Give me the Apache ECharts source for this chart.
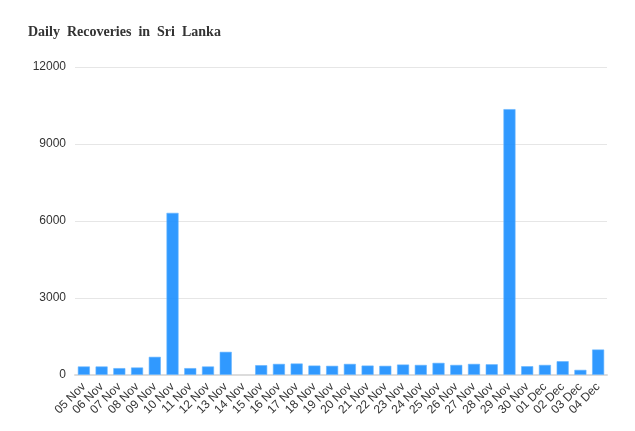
<!DOCTYPE html>
<html><head><meta charset="utf-8">
<script src="https://cdn.jsdelivr.net/npm/echarts@6/dist/echarts.min.js"></script>
<style>html,body{margin:0;padding:0;background:#fff}#c{width:635px;height:431px}</style>
</head><body><div id="c"></div>
<script>
const categories = ['05 Nov','06 Nov','07 Nov','08 Nov','09 Nov','10 Nov','11 Nov','12 Nov','13 Nov','14 Nov','15 Nov','16 Nov','17 Nov','18 Nov','19 Nov','20 Nov','21 Nov','22 Nov','23 Nov','24 Nov','25 Nov','26 Nov','27 Nov','28 Nov','29 Nov','30 Nov','01 Dec','02 Dec','03 Dec','04 Dec'];
const recoveries = [340,340,275,300,715,6325,275,340,910,0,390,440,455,375,365,440,375,365,415,400,480,400,440,425,10365,350,400,545,207,1000];
const yTicks = {min:0, max:12000, interval:3000};
const chart = echarts.init(document.getElementById('c'));
chart.setOption({
  animation:false,
  title:{text:'Daily  Recoveries  in  Sri  Lanka', left:23, top:20,
    textStyle:{fontFamily:'Liberation Serif', fontWeight:'bold', fontSize:14, color:'#333'}},
  grid:{left:75, right:28, top:67, bottom:56},
  xAxis:{type:'category', data:categories,
    axisLine:{lineStyle:{color:'#dcdcdc', width:2}},
    axisTick:{lineStyle:{color:'#dcdcdc'}, length:5},
    axisLabel:{rotate:45, color:'#333', fontSize:12, fontFamily:'Liberation Sans', margin:10, interval:0}},
  yAxis:{type:'value', min:yTicks.min, max:yTicks.max, interval:yTicks.interval,
    axisLine:{show:false}, axisTick:{show:false},
    axisLabel:{color:'#333', fontSize:12, fontFamily:'Liberation Sans', margin:9, formatter:v=>String(v)},
    splitLine:{lineStyle:{color:'#e6e6e6'}}},
  series:[{type:'bar', barCategoryGap:'30%',
    data:recoveries.map(v => v === 0 ? {value:v, itemStyle:{borderWidth:0}} : v),
    itemStyle:{color:'rgba(30,144,255,0.92)', borderColor:'rgba(100,180,255,0.6)', borderWidth:1}}]
});
</script></body></html>
